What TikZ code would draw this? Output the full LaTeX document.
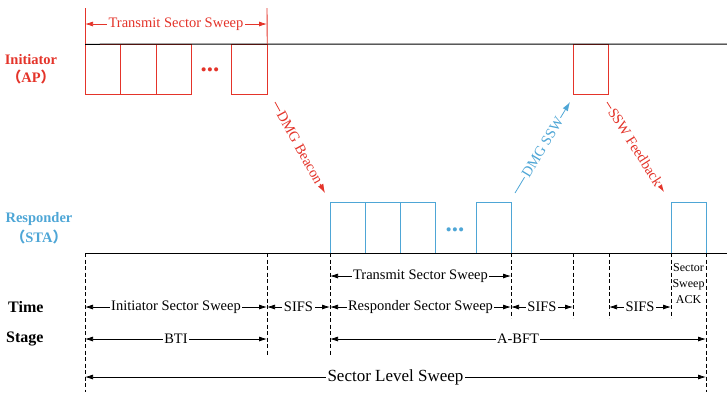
\documentclass[tikz,border=0pt]{standalone}
\usepackage{fontspec}
\setmainfont{Liberation Serif}
\newfontfamily\cjk{Noto Sans CJK SC}
\usetikzlibrary{arrows.meta}
\definecolor{apred}{RGB}{228,52,42}
\definecolor{stablue}{RGB}{78,166,214}

\begin{document}
\begin{tikzpicture}[x=1pt, y=-1pt,
    every node/.style={font=\fontsize{14.5}{17}\selectfont},
    slotbox/.style={draw, line width=0.9pt, minimum width=35.5pt, minimum height=50.5pt, inner sep=0pt, outer sep=0pt},
    timeline/.style={line width=1pt, black},
    guide/.style={black, line width=0.75pt, dash pattern=on 4pt off 2.5pt},
    span/.style={line width=0.75pt, {Latex[length=8pt,width=5pt]}-{Latex[length=8pt,width=5pt]}},
    spanlabel/.style={fill=white, inner xsep=1.5pt, inner ysep=0pt},
    frame/.style={line width=0.8pt, -{Latex[length=9pt,width=6pt]}},
    framelabel/.style={sloped, fill=white, inner xsep=1pt, inner ysep=0pt}]
    \useasboundingbox (0,0) rectangle (727,392);

    % Initiator (AP) - transmit sector sweep
    \foreach \n/\x in {1/102.75, 2/138.25, 3/173.75, 4/249.5}
        \node[slotbox, draw=apred] (ini\n) at (\x,69.5) {};
    \node[slotbox, draw=apred] (ifb) at (591,69.5) {};
    \node[anchor=base, text=apred, font=\fontsize{25}{25}\selectfont\bfseries] (idots) at (210,71) {...};

    % Responder (STA) - responder sector sweep
    \node[slotbox, draw=stablue, minimum width=35pt] (rsp1) at (347.5,228) {};
    \node[slotbox, draw=stablue, minimum width=35pt] (rsp2) at (382.5,228) {};
    \node[slotbox, draw=stablue, minimum width=35pt] (rsp3) at (417.5,228) {};
    \node[slotbox, draw=stablue, minimum width=35pt] (rsp4) at (493.5,228) {};
    \node[slotbox, draw=stablue, minimum width=35pt] (rack) at (688.5,228) {};
    \node[anchor=base, text=stablue, font=\fontsize{25}{25}\selectfont\bfseries] (rdots) at (455,231) {...};

    % Time lines
    \coordinate (apend) at (727,44);
    \coordinate (stastart) at (85,253);
    \coordinate (staend) at (727,253);
    \draw[timeline] (ini1.north west) -- (apend);
    \draw[timeline] (stastart) -- (staend);

    % Station labels
    \node[text=apred, align=center, font=\fontsize{14.5}{18}\selectfont\bfseries] (init) at (31,69) {Initiator\\{\cjk （}AP{\cjk ）}};
    \node[text=stablue, align=center, font=\fontsize{14.5}{20}\selectfont\bfseries] (resp) at (39,228) {Responder\\{\cjk （}STA{\cjk ）}};
    \node[anchor=east, font=\fontsize{16}{18}\selectfont\bfseries] (time) at (47,307) {Time};
    \node[anchor=east, font=\fontsize{16}{18}\selectfont\bfseries] (stage) at (47,339) {Stage};

    % Transmit sector sweep of the initiator
    \coordinate (tsl) at (85,8);
    \coordinate (tsr) at (267,8);
    \coordinate (tsrow) at (0,24);
    \draw[apred, line width=0.9pt] (tsl) -- (ini1.north west);
    \draw[apred, line width=0.9pt] (tsr) -- (ini4.north east);
    \draw[span, apred] (tsl |- tsrow) -- node[spanlabel, text=apred] {Transmit Sector Sweep} (tsr |- tsrow);

    % Frames
    \coordinate (bcn0) at (275,102);
    \coordinate (bcn1) at (325,193);
    \coordinate (ssw0) at (515,193);
    \coordinate (ssw1) at (570,102);
    \coordinate (fb0) at (607,102);
    \coordinate (fb1) at (664,192);
    \draw[frame, apred] (bcn0) -- node[framelabel, text=apred] {DMG Beacon} (bcn1);
    \draw[frame, stablue] (ssw0) -- node[framelabel, text=stablue] {DMG SSW} (ssw1);
    \draw[frame, apred] (fb0) -- node[framelabel, text=apred] {SSW Feedback} (fb1);

    % Guide lines
    \foreach \n/\x/\y in {0/85/392, 1/267/355, 2/330/355, 3/511/318, 4/573/318, 5/609/318, 6/671/318, 7/706/392} {
        \coordinate (g\n) at (\x,253);
        \draw[guide] (g\n) -- (\x,\y);
    }

    % Durations
    \coordinate (tsrow2) at (0,276);
    \coordinate (slsrow) at (0,377);
    \draw[span] (g2 |- tsrow2) -- node[spanlabel] {Transmit Sector Sweep} (g3 |- tsrow2);
    \draw[span] (g0 |- time) -- node[spanlabel] {Initiator Sector Sweep} (g1 |- time);
    \draw[span] (g1 |- time) -- node[spanlabel] {SIFS} (g2 |- time);
    \draw[span] (g2 |- time) -- node[spanlabel] {Responder Sector Sweep} (g3 |- time);
    \draw[span] (g3 |- time) -- node[spanlabel] {SIFS} (g4 |- time);
    \draw[span] (g5 |- time) -- node[spanlabel] {SIFS} (g6 |- time);
    \draw[span] (g0 |- stage) -- node[spanlabel] {BTI} (g1 |- stage);
    \draw[span] (g2 |- stage) -- node[spanlabel] {A-BFT} (g7 |- stage);
    \draw[span] (g0 |- slsrow) -- node[spanlabel, font=\fontsize{17}{19}\selectfont] {Sector Level Sweep} (g7 |- slsrow);
    \node[align=center, inner sep=0pt, font=\fontsize{12}{16}\selectfont] (ack) at (688.5,284) {Sector\\Sweep\\ACK};
\end{tikzpicture}
\end{document}
